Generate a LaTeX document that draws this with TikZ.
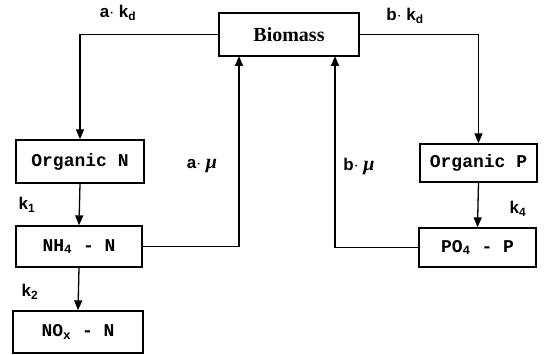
\documentclass[tikz,border=0pt]{standalone}
\usepackage{fontspec}
\setmainfont{Liberation Serif}
\newfontfamily\monof{Liberation Mono}
\newfontfamily\lblf{Liberation Sans}
\usetikzlibrary{arrows.meta}
\newcommand{\sbs}[1]{\textsubscript{#1}}
\newcommand{\muit}{{\rmfamily\bfseries\itshape\fontsize{20}{20}\selectfont μ}}
\begin{document}
\begin{tikzpicture}[x=1pt,y=1pt,
  box/.style={draw,line width=1.3pt,inner sep=0pt,font=\monof\bfseries\fontsize{18}{18}\selectfont},
  lbl/.style={font=\lblf\bfseries\fontsize{17}{17}\selectfont,inner sep=0pt},
  conn/.style={line width=1.3pt},
  arr/.style={conn,-{Triangle[width=8pt,length=10pt]}}]
\useasboundingbox (0,0) rectangle (547,355);
\node[box,minimum width=140pt,minimum height=43pt,font=\bfseries\fontsize{20}{20}\selectfont] (bio) at (289,320.5) {Biomass};
\node[box,minimum width=128pt,minimum height=43pt] (on) at (80,193.5) {Organic N};
\node[box,minimum width=126pt,minimum height=41pt] (nh) at (79,108.5) {NH\sbs{4}\hspace{0.6em}-\hspace{0.6em}N};
\node[box,minimum width=130pt,minimum height=42pt] (no) at (78,23) {NO\sbs{x}\hspace{0.6em}-\hspace{0.6em}N};
\node[box,minimum width=117pt,minimum height=38pt] (op) at (478.5,192) {Organic P};
\node[box,minimum width=117pt,minimum height=39pt] (po) at (477.5,107.5) {PO\sbs{4}\hspace{0.6em}-\hspace{0.6em}P};
\coordinate (bmA) at (239,299);
\coordinate (bmB) at (335,299);
\node[lbl] (lak) at (118,342) {a$\cdot$ k\sbs{d}};
\node[lbl] (lbk) at (405,339) {b$\cdot$ k\sbs{d}};
\node[lbl] (lam) at (202,189) {a$\cdot$ \muit};
\node[lbl] (lbm) at (359,189) {b$\cdot$ \muit};
\node[lbl] (lk1) at (27,150) {k\sbs{1}};
\node[lbl] (lk2) at (30,63) {k\sbs{2}};
\node[lbl] (lk4) at (518,146) {k\sbs{4}};
\draw[arr] (bio.west) -| (on.north);
\draw[arr] (bio.east) -| (op.north);
\draw[arr] (on.south) -- (nh.north);
\draw[arr] (nh.south) -- (no.north);
\draw[arr] (op.south) -- (po.north);
\draw[arr] (nh.east) -| (bmA);
\draw[arr] (po.west) -| (bmB);
\end{tikzpicture}
\end{document}
